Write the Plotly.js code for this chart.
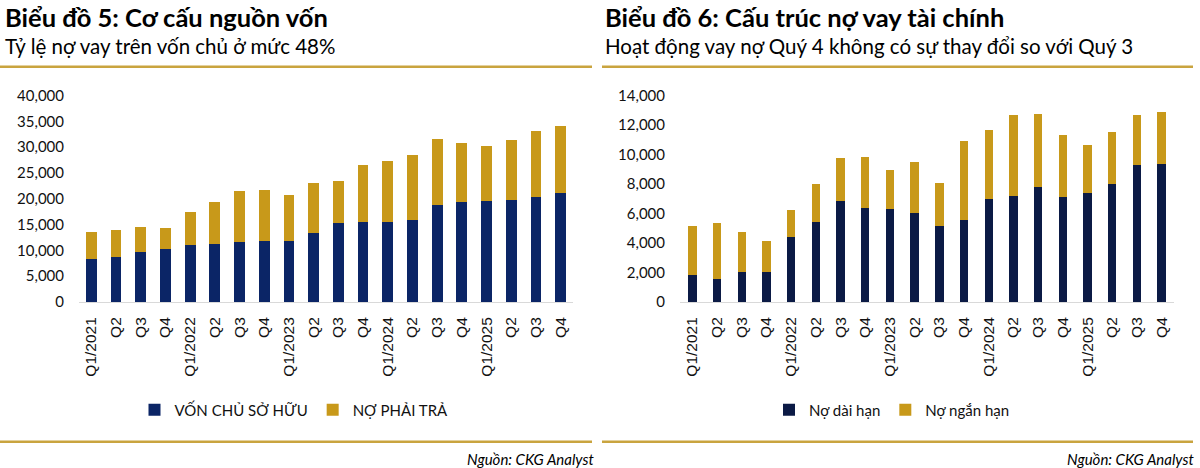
<!DOCTYPE html>
<html>
<head>
<meta charset="utf-8">
<script src="https://cdn.plot.ly/plotly-3.0.1.min.js"></script>
<style>
  html, body { margin: 0; padding: 0; background: #fff; }
  #chart { width: 1200px; height: 468px; }
</style>
</head>
<body>
<div id="chart"></div>
<script>
// Quarter keys (unique) and the short labels shown on the axis
const quarters = [
  'Q1/2021','Q2/2021','Q3/2021','Q4/2021',
  'Q1/2022','Q2/2022','Q3/2022','Q4/2022',
  'Q1/2023','Q2/2023','Q3/2023','Q4/2023',
  'Q1/2024','Q2/2024','Q3/2024','Q4/2024',
  'Q1/2025','Q2/2025','Q3/2025','Q4/2025'
];
const quarterLabels = [
  'Q1/2021','Q2','Q3','Q4',
  'Q1/2022','Q2','Q3','Q4',
  'Q1/2023','Q2','Q3','Q4',
  'Q1/2024','Q2','Q3','Q4',
  'Q1/2025','Q2','Q3','Q4'
];

// Biểu đồ 5: capital structure (tỷ đồng)
const vonChuSoHuu = [8350, 8700, 9770, 10240, 11130, 11330, 11650, 11790, 11790, 13400,
                     15340, 15540, 15540, 15800, 18840, 19420, 19560, 19750, 20390, 21170];
const noPhaiTra   = [5250, 5300, 4800, 4130, 6290, 8090, 9910, 9830, 8990, 9580,
                     8100, 10930, 11710, 12750, 12820, 11460, 10740, 11580, 12760, 13010];

// Biểu đồ 6: financial borrowing structure (tỷ đồng)
const noDaiHan  = [1860, 1590, 2060, 2060, 4400, 5420, 6850, 6400, 6290, 6020,
                   5180, 5570, 6990, 7210, 7800, 7130, 7420, 8030, 9320, 9380];
const noNganHan = [3320, 3750, 2670, 2060, 1830, 2580, 2940, 3440, 2690, 3500,
                   2910, 5330, 4680, 5470, 4930, 4200, 3230, 3520, 3390, 3530];

const leftTicks  = [0, 5000, 10000, 15000, 20000, 25000, 30000, 35000, 40000];
const rightTicks = [0, 2000, 4000, 6000, 8000, 10000, 12000, 14000];

const NAVY_L = '#0B2566';
const NAVY_R = '#0B1A45';
const GOLD   = '#C8991A';
const RULE   = '#C9A43F';
const W = 1200, H = 468;
const px = v => v / W;
const py = v => 1 - v / H;

const traces = [
  { type: 'bar', name: 'VỐN CHỦ SỞ HỮU', x: quarters, y: vonChuSoHuu,
    marker: { color: NAVY_L }, width: 0.44, xaxis: 'x', yaxis: 'y', legend: 'legend' },
  { type: 'bar', name: 'NỢ PHẢI TRẢ', x: quarters, y: noPhaiTra,
    marker: { color: GOLD }, width: 0.44, xaxis: 'x', yaxis: 'y', legend: 'legend' },
  { type: 'bar', name: 'Nợ dài hạn', x: quarters, y: noDaiHan,
    marker: { color: NAVY_R }, width: 0.34, xaxis: 'x2', yaxis: 'y2', legend: 'legend2' },
  { type: 'bar', name: 'Nợ ngắn hạn', x: quarters, y: noNganHan,
    marker: { color: GOLD }, width: 0.34, xaxis: 'x2', yaxis: 'y2', legend: 'legend2' }
];

const xTickFont = { family: '"Liberation Sans", Arial, sans-serif', size: 15.5, color: '#111' };
const yTickFont = { family: 'Lato, sans-serif', size: 15, color: '#111' };

function xAxis(domain, anchor) {
  return {
    domain: domain, anchor: anchor, type: 'category',
    categoryorder: 'array', categoryarray: quarters,
    tickmode: 'array', tickvals: quarters, ticktext: quarterLabels,
    tickangle: -90, tickfont: xTickFont, ticklabelstandoff: 8,
    showline: true, linecolor: '#D9D9D9', linewidth: 1,
    showgrid: false, zeroline: false, ticks: '', fixedrange: true
  };
}
function yAxis(domain, anchor, max, ticks) {
  return {
    domain: domain, anchor: anchor, range: [0, max],
    tickmode: 'array', tickvals: ticks, tickformat: ',d',
    tickfont: yTickFont, ticklabelstandoff: 14,
    showline: false, showgrid: false, zeroline: false, ticks: '', fixedrange: true
  };
}

const yDom = [py(302), py(95.5)];
const legendFont = { family: 'Lato, sans-serif', size: 15, color: '#111' };
const titleFont = { family: 'Lato, sans-serif', size: 25.5, color: '#000' };
const subFont = { family: 'Lato, sans-serif', size: 20.5, color: '#000' };
const srcFont = { family: 'Lato, sans-serif', size: 15, color: '#000' };

const layout = {
  width: W, height: H,
  margin: { l: 0, r: 0, t: 0, b: 0 },
  paper_bgcolor: '#fff', plot_bgcolor: '#fff',
  barmode: 'stack',
  showlegend: true,
  xaxis: xAxis([px(79), px(573)], 'y'),
  yaxis: yAxis(yDom, 'x', 40000, leftTicks),
  xaxis2: xAxis([px(680), px(1174)], 'y2'),
  yaxis2: yAxis(yDom, 'x2', 14000, rightTicks),
  legend: {
    orientation: 'h', x: px(294), xanchor: 'center', y: py(410), yanchor: 'middle',
    font: legendFont, itemclick: false, traceorder: 'normal', itemwidth: 30
  },
  legend2: {
    orientation: 'h', x: px(892), xanchor: 'center', y: py(410), yanchor: 'middle',
    font: legendFont, itemclick: false, traceorder: 'normal', itemwidth: 30
  },
  annotations: [
    { text: '<b>Biểu đồ 5: Cơ cấu nguồn vốn</b>', xref: 'paper', yref: 'paper',
      x: px(3), y: py(17), xanchor: 'left', yanchor: 'middle', showarrow: false,
      font: titleFont },
    { text: 'Tỷ lệ nợ vay trên vốn chủ ở mức 48%', xref: 'paper', yref: 'paper',
      x: px(3), y: py(46), xanchor: 'left', yanchor: 'middle', showarrow: false,
      font: subFont },
    { text: '<b>Biểu đồ 6: Cấu trúc nợ vay tài chính</b>', xref: 'paper', yref: 'paper',
      x: px(603), y: py(17), xanchor: 'left', yanchor: 'middle', showarrow: false,
      font: titleFont },
    { text: 'Hoạt động vay nợ Quý 4 không có sự thay đổi so với Quý 3', xref: 'paper', yref: 'paper',
      x: px(603), y: py(46), xanchor: 'left', yanchor: 'middle', showarrow: false,
      font: subFont },
    { text: '<i>Nguồn: CKG Analyst</i>', xref: 'paper', yref: 'paper',
      x: px(596), y: py(459), xanchor: 'right', yanchor: 'middle', showarrow: false,
      font: srcFont },
    { text: '<i>Nguồn: CKG Analyst</i>', xref: 'paper', yref: 'paper',
      x: px(1196), y: py(459), xanchor: 'right', yanchor: 'middle', showarrow: false,
      font: srcFont }
  ],
  shapes: [
    { type: 'line', xref: 'paper', yref: 'paper', x0: 0, x1: px(592), y0: py(66.7), y1: py(66.7),
      line: { color: RULE, width: 2.5 } },
    { type: 'line', xref: 'paper', yref: 'paper', x0: px(602), x1: px(1193), y0: py(66.7), y1: py(66.7),
      line: { color: RULE, width: 2.5 } },
    { type: 'line', xref: 'paper', yref: 'paper', x0: 0, x1: px(592), y0: py(441.7), y1: py(441.7),
      line: { color: RULE, width: 2.5 } },
    { type: 'line', xref: 'paper', yref: 'paper', x0: px(602), x1: px(1193), y0: py(441.7), y1: py(441.7),
      line: { color: RULE, width: 2.5 } }
  ]
};

Plotly.newPlot('chart', traces, layout, { staticPlot: true, displayModeBar: false });
</script>
</body>
</html>
